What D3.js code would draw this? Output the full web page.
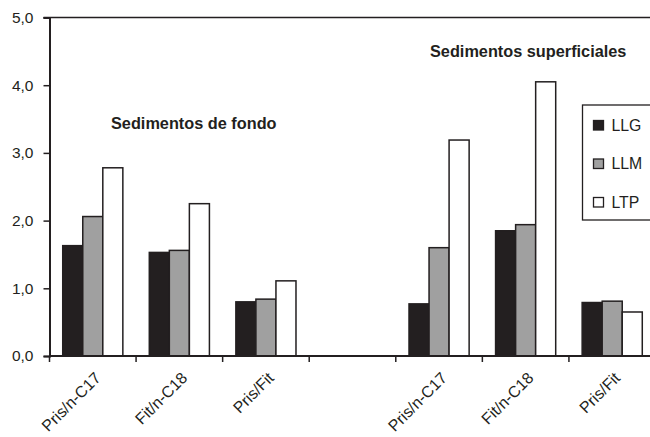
<!DOCTYPE html>
<html>
<head>
<meta charset="utf-8">
<script src="https://cdn.jsdelivr.net/npm/d3@7"></script>
<style>
  html, body { margin: 0; padding: 0; background: #fff; }
  svg { display: block; font-family: "Liberation Sans", Arial, sans-serif; }
</style>
</head>
<body>
<svg id="chart" width="650" height="437"></svg>
<script>
// ---- data ----
const categories = ["Pris/n-C17", "Fit/n-C18", "Pris/Fit", "", "Pris/n-C17", "Fit/n-C18", "Pris/Fit"];
const seriesNames = ["LLG", "LLM", "LTP"];
const LLG = [1.63, 1.53, 0.80, null, 0.77, 1.85, 0.79];
const LLM = [2.06, 1.56, 0.84, null, 1.60, 1.94, 0.81];
const LTP = [2.78, 2.25, 1.11, null, 3.19, 4.05, 0.65];
const yTicks = [0, 1, 2, 3, 4, 5];
const annotations = ["Sedimentos de fondo", "Sedimentos superficiales"];

const seriesValues = { LLG, LLM, LTP };
const colors = { LLG: "#231f20", LLM: "#a0a0a0", LTP: "#ffffff" };
const ink = "#231f20";

const svg = d3.select("#chart");
const mLeft = 49.5, mRight = 655.5, mTop = 17.5, mBottom = 356;

const x = d3.scaleBand().domain(d3.range(categories.length)).range([mLeft, mRight]).paddingInner(0).paddingOuter(0);
const x1 = d3.scaleBand().domain(seriesNames).range([0, x.bandwidth()]).paddingInner(0).paddingOuter(0.66);
const y = d3.scaleLinear().domain([0, 5]).range([mBottom, mTop]);

// top frame line
svg.append("line").attr("x1", mLeft - 6).attr("x2", 650).attr("y1", y(5)).attr("y2", y(5))
  .attr("stroke", ink).attr("stroke-width", 1.3);

// bars
const rows = [];
categories.forEach((c, i) => seriesNames.forEach(s => {
  const v = seriesValues[s][i];
  if (v != null) rows.push({ i, s, v });
}));
svg.append("g").selectAll("rect").data(rows).join("rect")
  .attr("x", d => x(d.i) + x1(d.s))
  .attr("y", d => y(d.v))
  .attr("width", x1.bandwidth())
  .attr("height", d => y(0) - y(d.v))
  .attr("fill", d => colors[d.s])
  .attr("stroke", ink)
  .attr("stroke-width", 1.5);

// y axis
const yAxis = d3.axisLeft(y).tickValues(yTicks).tickSize(6).tickPadding(10)
  .tickFormat(d => d3.format(".1f")(d).replace(".", ","));
const gy = svg.append("g").attr("transform", `translate(${mLeft},0)`).call(yAxis);
gy.select(".domain").attr("stroke", ink).attr("stroke-width", 2);
gy.selectAll(".tick line").attr("stroke", ink).attr("stroke-width", 1.5);
gy.selectAll(".tick text").attr("font-size", 15.5).attr("fill", ink)
  .attr("font-family", "Liberation Sans, Arial, sans-serif");

// x axis line
svg.append("line").attr("x1", mLeft).attr("x2", 650).attr("y1", mBottom).attr("y2", mBottom)
  .attr("stroke", ink).attr("stroke-width", 2);
// x ticks at band boundaries
const boundaries = d3.range(categories.length + 1).map(i => i < categories.length ? x(i) : x(i - 1) + x.bandwidth());
svg.append("g").selectAll("line").data(boundaries).join("line")
  .attr("x1", d => d).attr("x2", d => d).attr("y1", mBottom).attr("y2", mBottom + 6)
  .attr("stroke", ink).attr("stroke-width", 1.5);

// x labels rotated
svg.append("g").selectAll("text").data(categories.map((c, i) => ({ c, i })).filter(d => d.c !== ""))
  .join("text")
  .attr("transform", d => `translate(${x(d.i) + x.bandwidth() / 2 + 9},${mBottom + 23}) rotate(-45)`)
  .attr("text-anchor", "end")
  .attr("font-size", 16)
  .attr("fill", ink)
  .text(d => d.c);

// annotations
svg.append("text").attr("x", 111).attr("y", 129).attr("font-size", 16.3).attr("font-weight", "bold")
  .attr("fill", ink).text(annotations[0]);
svg.append("text").attr("x", 430).attr("y", 56.5).attr("font-size", 16.3).attr("font-weight", "bold")
  .attr("fill", ink).text(annotations[1]);

// legend
const lg = svg.append("g").attr("transform", "translate(582.5,105)");
lg.append("rect").attr("x", 0).attr("y", 0).attr("width", 90).attr("height", 115)
  .attr("fill", "#fff").attr("stroke", ink).attr("stroke-width", 1.3);
const ly = d3.scalePoint().domain(seriesNames).range([20, 97]);
const items = lg.selectAll("g.item").data(seriesNames).join("g").attr("class", "item")
  .attr("transform", d => `translate(0,${ly(d)})`);
items.append("rect").attr("x", 11).attr("y", -4.5).attr("width", 10).attr("height", 9.5)
  .attr("fill", d => colors[d]).attr("stroke", ink).attr("stroke-width", 1.3);
items.append("text").attr("x", 29).attr("y", 5.5).attr("font-size", 15.8).attr("fill", ink).text(d => d);
</script>
</body>
</html>
